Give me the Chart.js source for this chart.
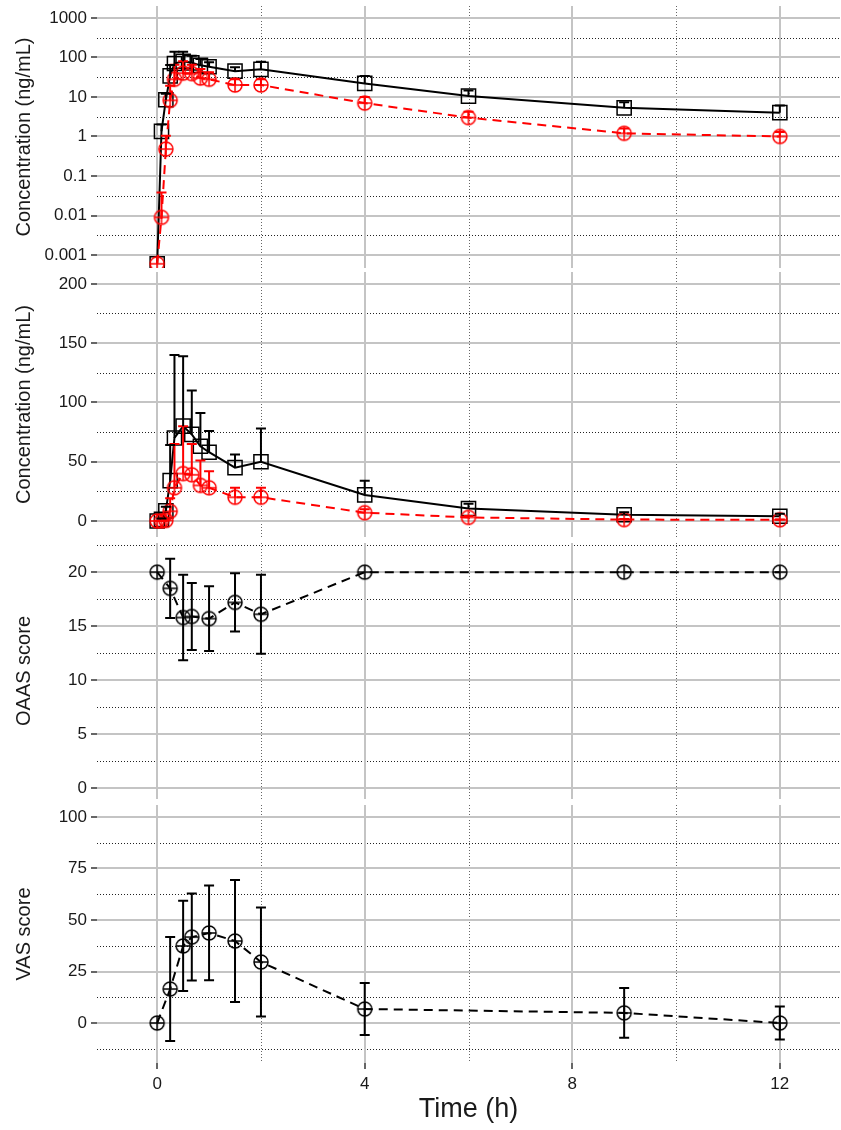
<!DOCTYPE html>
<html>
<head>
<meta charset="utf-8">
<script src="https://cdn.jsdelivr.net/npm/chart.js@4.4.1/dist/chart.umd.min.js"></script>
<style>
  body { margin: 0; background: #fff; }
  #wrap { position: relative; width: 841px; height: 1130px; }
  #wrap canvas { position: absolute; left: 0; }
</style>
</head>
<body>
<div id="wrap">
  <canvas id="logChart" width="841" height="270" style="top:0px"></canvas>
  <canvas id="linChart" width="841" height="270" style="top:270px"></canvas>
  <canvas id="oaasChart" width="841" height="262" style="top:540px"></canvas>
  <canvas id="vasChart" width="841" height="328" style="top:802px"></canvas>
</div>
<script>
"use strict";

// sampling times (h)
var pkTimes = [0, 0.083, 0.167, 0.25, 0.333, 0.5, 0.667, 0.833, 1, 1.5, 2, 4, 6, 9, 12];
var scoreTimes = [0, 0.25, 0.5, 0.667, 1, 1.5, 2, 4, 9, 12];

// concentration (ng/mL): mean and SD
var blackMean = [0, 1.35, 8.5, 34, 70, 80, 73, 63, 58, 45, 50, 22, 10.5, 5.3, 4.0];
var blackSd   = [0, 0.65, 3.5, 30, 70, 59, 37, 28, 18, 11, 28, 12, 4, 2, 2.1];
var redMean   = [0, 0.009, 0.48, 8.2, 28, 40, 39, 30, 28, 20, 20, 7, 3, 1.2, 1.0];
var redSd     = [0, 0.029, 0.57, 11, 37, 40, 26, 21, 14, 8, 8, 3, 1.2, 0.4, 0.3];

// scores: mean and SD
var oaasMean = [20, 18.5, 15.8, 15.9, 15.7, 17.2, 16.1, 20, 20, 20];
var oaasSd   = [0, 2.75, 3.95, 3.1, 3.0, 2.7, 3.65, 0, 0, 0];
var vasMean  = [0, 16.5, 37.4, 41.7, 43.7, 39.8, 29.6, 6.8, 4.9, 0];
var vasSd    = [0, 25.2, 21.9, 21.1, 23.0, 29.6, 26.4, 12.6, 12.1, 8.0];

// ticks
var xTicks = [0, 4, 8, 12];
var xMinor = [2, 6, 10];
var logTicks = [0.001, 0.01, 0.1, 1, 10, 100, 1000];
var logMinor = [0.00316, 0.0316, 0.316, 3.16, 31.6, 316];
var concTicks = [0, 50, 100, 150, 200];
var concMinor = [25, 75, 125, 175];
var oaasTicks = [0, 5, 10, 15, 20];
var oaasMinor = [2.5, 7.5, 12.5, 17.5, 22.5];
var vasTicks = [0, 25, 50, 75, 100];
var vasMinor = [-12.5, 12.5, 37.5, 62.5, 87.5];

var logZero = 0.0006; // zero concentrations are put here on the log panel

var FONT = "'Liberation Sans', Arial, Helvetica, sans-serif";
var GRID = "#c4c4c4";

// dotted minor grid lines, drawn under the major ones
var minorGrid = {
    id: "minorGrid",
    beforeDraw: function (chart, args, opts) {
        var ctx = chart.ctx, a = chart.chartArea;
        var xs = chart.scales.x, ys = chart.scales.y;
        ctx.save();
        ctx.beginPath();
        ctx.rect(a.left, a.top, a.right - a.left, a.bottom - a.top);
        ctx.clip();
        ctx.lineWidth = 1;
        ctx.setLineDash([1, 2]);
        ctx.strokeStyle = "#666";
        xMinor.forEach(function (v) {
            var px = Math.round(xs.getPixelForValue(v)) + 0.5;
            ctx.beginPath();
            ctx.moveTo(px, a.top);
            ctx.lineTo(px, a.bottom);
            ctx.stroke();
        });
        ctx.strokeStyle = "#222";
        (opts.y || []).forEach(function (v) {
            var py = Math.round(ys.getPixelForValue(v)) + 0.5;
            ctx.beginPath();
            ctx.moveTo(a.left, py);
            ctx.lineTo(a.right, py);
            ctx.stroke();
        });
        ctx.restore();
    }
};

// mean +/- SD bars
var errorBars = {
    id: "errorBars",
    afterDatasetsDraw: function (chart) {
        var ctx = chart.ctx, a = chart.chartArea;
        ctx.save();
        ctx.beginPath();
        ctx.rect(a.left, a.top - 2, a.right - a.left, a.bottom - a.top + 4);
        ctx.clip();
        chart.data.datasets.forEach(function (ds, i) {
            if (!ds.sd) return;
            var meta = chart.getDatasetMeta(i);
            var ys = chart.scales[meta.yAxisID];
            ctx.strokeStyle = ds.borderColor;
            ctx.lineWidth = 2;
            ctx.setLineDash([]);
            meta.data.forEach(function (pt, j) {
                var sd = ds.sd[j];
                if (!sd) return;
                var m = ds.mean[j];
                var top = ys.getPixelForValue(m + sd);
                var bot = ds.bothWays ? ys.getPixelForValue(m - sd) : pt.y;
                ctx.beginPath();
                ctx.moveTo(pt.x, top);
                ctx.lineTo(pt.x, bot);
                ctx.moveTo(pt.x - 5, top);
                ctx.lineTo(pt.x + 5, top);
                if (ds.bothWays) {
                    ctx.moveTo(pt.x - 5, bot);
                    ctx.lineTo(pt.x + 5, bot);
                }
                ctx.stroke();
            });
        });
        ctx.restore();
    }
};

function circlePlus(color) {
    var c = document.createElement("canvas");
    c.width = 18;
    c.height = 18;
    var g = c.getContext("2d");
    g.strokeStyle = color;
    g.lineWidth = 1.5;
    g.beginPath();
    g.arc(9, 9, 7, 0, Math.PI * 2);
    g.stroke();
    g.beginPath();
    g.moveTo(2, 9); g.lineTo(16, 9);
    g.moveTo(9, 2); g.lineTo(9, 16);
    g.stroke();
    return c;
}
var redMark = circlePlus("#ff0000");
var blackMark = circlePlus("#000000");

function pts(times, vals, floor) {
    return times.map(function (t, i) {
        var v = vals[i];
        if (floor && v === 0) v = floor;
        return { x: t, y: v };
    });
}

function xAxis(bottom) {
    return {
        type: "linear",
        min: -1.16,
        max: 13.16,
        afterBuildTicks: function (s) {
            s.ticks = xTicks.map(function (v) { return { value: v }; });
        },
        afterFit: function (s) {
            s.height = bottom ? 67 : 0;
            s.paddingLeft = 0;
            s.paddingRight = 0;
        },
        ticks: {
            display: bottom, autoSkip: false, maxRotation: 0, padding: 5,
            color: "#1a1a1a", font: { family: FONT, size: 17 }
        },
        grid: { color: GRID, lineWidth: 2, drawTicks: bottom, tickLength: 6, tickColor: "#333", tickWidth: 1.5 },
        border: { display: false },
        title: {
            display: bottom, text: "Time (h)", color: "#1a1a1a",
            font: { family: FONT, size: 27 }, padding: { top: 0, bottom: 4 }
        }
    };
}

function yAxis(type, min, max, ticks, title) {
    return {
        type: type,
        min: min,
        max: max,
        afterBuildTicks: function (s) {
            s.ticks = ticks.map(function (v) { return { value: v }; });
        },
        afterFit: function (s) {
            s.width = 97;
            s.paddingTop = 0;
            s.paddingBottom = 0;
        },
        ticks: {
            autoSkip: false, padding: 4, color: "#1a1a1a",
            font: { family: FONT, size: 17 },
            callback: function (v) { return String(v); }
        },
        grid: { color: GRID, lineWidth: 2, tickLength: 6, tickColor: "#333", tickWidth: 1.5 },
        border: { display: false },
        title: {
            display: true, text: title, color: "#1a1a1a",
            font: { family: FONT, size: 20 }, padding: { top: 12, bottom: 0 }
        }
    };
}

function makeChart(id, datasets, x, y, minor, padding) {
    return new Chart(document.getElementById(id), {
        type: "line",
        data: { datasets: datasets },
        options: {
            responsive: false,
            animation: false,
            events: [],
            layout: { padding: padding, autoPadding: false },
            plugins: { legend: { display: false }, tooltip: { enabled: false }, minorGrid: { y: minor } },
            scales: { x: x, y: y }
        },
        plugins: [minorGrid, errorBars]
    });
}

function redSet(data) {
    return {
        data: data, mean: redMean, sd: redSd,
        borderColor: "#ff0000", borderWidth: 2, borderDash: [9, 6],
        pointStyle: redMark, pointRadius: 7, tension: 0
    };
}
function blackSet(data) {
    return {
        data: data, mean: blackMean, sd: blackSd,
        borderColor: "#000000", borderWidth: 2,
        pointStyle: "rect", pointRadius: 10, pointBorderWidth: 1.5,
        pointBackgroundColor: "rgba(0,0,0,0)", tension: 0
    };
}
function scoreSet(mean, sd) {
    return {
        data: pts(scoreTimes, mean), mean: mean, sd: sd, bothWays: true,
        borderColor: "#000000", borderWidth: 2, borderDash: [9, 6],
        pointStyle: blackMark, pointRadius: 7, tension: 0
    };
}

makeChart("logChart",
    [redSet(pts(pkTimes, redMean, logZero)), blackSet(pts(pkTimes, blackMean, logZero))],
    xAxis(false),
    yAxis("logarithmic", 0.00047, 2000, logTicks, "Concentration (ng/mL)"),
    logMinor, { top: 6, bottom: 2, left: 0, right: 1 });

makeChart("linChart",
    [redSet(pts(pkTimes, redMean)), blackSet(pts(pkTimes, blackMean))],
    xAxis(false),
    yAxis("linear", -13.5, 210, concTicks, "Concentration (ng/mL)"),
    concMinor, { top: 2, bottom: 3, left: 0, right: 1 });

makeChart("oaasChart",
    [scoreSet(oaasMean, oaasSd)],
    xAxis(false),
    yAxis("linear", -1.0, 22.7, oaasTicks, "OAAS score"),
    oaasMinor, { top: 3, bottom: 3, left: 0, right: 1 });

makeChart("vasChart",
    [scoreSet(vasMean, vasSd)],
    xAxis(true),
    yAxis("linear", -19.4, 105.8, vasTicks, "VAS score"),
    vasMinor, { top: 3, bottom: 0, left: 0, right: 1 });
</script>
</body>
</html>
